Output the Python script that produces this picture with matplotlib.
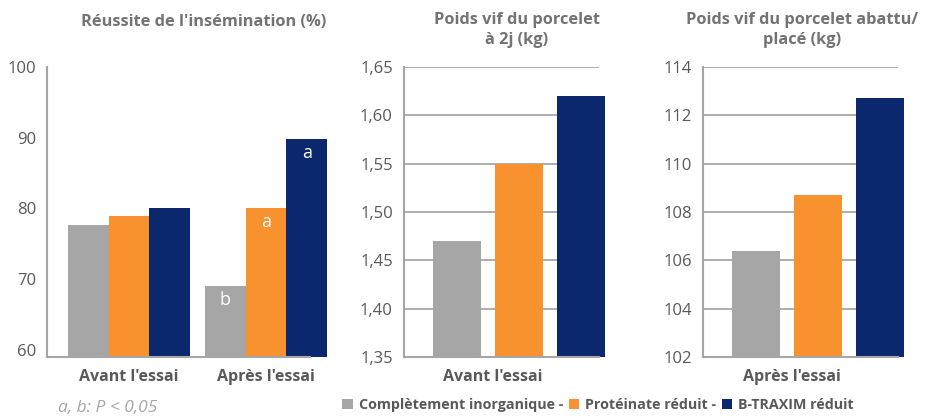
import matplotlib
matplotlib.use("Agg")
import matplotlib.pyplot as plt
import numpy as np

# --- data ---
series = ["Complètement inorganique -", "Protéinate réduit -", "B-TRAXIM réduit"]
colors = ["#a6a6a6", "#f7922f", "#0b276e"]

periods = ["Avant l'essai", "Après l'essai"]
insem_inorg = [77.6, 69.0]
insem_prot = [79.0, 80.0]
insem_btrax = [80.1, 89.8]
insem_letters = [["", "b"], ["", "a"], ["", "a"]]

poids_2j = [1.47, 1.55, 1.62]          # avant l'essai
poids_abattu = [106.4, 108.7, 112.7]   # après l'essai

ticks_insem = [60, 70, 80, 90, 100]
ticks_2j = [1.35, 1.40, 1.45, 1.50, 1.55, 1.60, 1.65]
ticks_abattu = [102, 104, 106, 108, 110, 112, 114]

plt.rcParams["font.family"] = ["Open Sans", "DejaVu Sans"]
TXT = "#595959"
TITLE = "#737373"
AXC = "#a6a6a6"

W, H = 940, 419
fig = plt.figure(figsize=(W / 100, H / 100), dpi=100)


def px_axes(left, top, right, bottom):
    return fig.add_axes([left / W, 1 - bottom / H, (right - left) / W, (bottom - top) / H])


def style(ax, grid):
    for s in ["top", "right"]:
        ax.spines[s].set_visible(False)
    for s in ["left", "bottom"]:
        ax.spines[s].set_color(AXC)
        ax.spines[s].set_linewidth(1.5)
    ax.tick_params(axis="y", length=0, pad=8, labelsize=12, labelcolor=TXT)
    ax.tick_params(axis="x", length=0)
    ax.set_xticks([])
    if grid:
        ax.yaxis.grid(True, color="#a0a0a0", linewidth=1.2)
        ax.set_axisbelow(True)


# --- panel 1: insemination success ---
ax1 = px_axes(47, 67, 310, 357)
style(ax1, grid=False)
x = np.arange(len(periods))
bw = 0.297
for i, vals in enumerate([insem_inorg, insem_prot, insem_btrax]):
    bars = ax1.bar(x + (i - 1) * bw, [v - 59 for v in vals], bw, bottom=59,
                   color=colors[i], clip_on=False, label=series[i])
    for b, lab, v in zip(bars, insem_letters[i], vals):
        if lab:
            ax1.text(b.get_x() + b.get_width() / 2, v - 0.7, lab, ha="center", va="top",
                     color="white", fontsize=13)
ax1.set_xlim(-0.599, 1.321)
ax1.set_ylim(59, 100)
ax1.set_yticks(ticks_insem)
ax1.set_yticklabels([str(t) for t in ticks_insem])
for xi, p in zip(x, periods):
    ax1.text(xi, -0.04, p, transform=ax1.get_xaxis_transform(), ha="center", va="top",
             fontsize=11.5, fontweight="bold", color=TXT)
fig.text(204 / W, 1 - 22 / H, "Réussite de l'insémination (%)", ha="center", va="center",
         fontsize=11.8, fontweight="bold", color=TITLE)

# --- panel 2: weight at 2 days ---
ax2 = px_axes(404, 67, 599, 357)
style(ax2, grid=True)
xb = np.array([-1, 0, 1])
ax2.bar(xb, [v - 1.35 for v in poids_2j], 0.766, bottom=1.35, color=colors, clip_on=False)
ax2.set_xlim(-1.855, 1.29)
ax2.set_ylim(1.35, 1.65)
ax2.set_yticks(ticks_2j)
ax2.set_yticklabels([f"{t:.2f}".replace(".", ",") for t in ticks_2j])
ax2.text((493 - 404) / 195, -0.04, periods[0], transform=ax2.transAxes, ha="center", va="top",
         fontsize=11.5, fontweight="bold", color=TXT)
fig.text(517 / W, 1 - 30 / H, "Poids vif du porcelet\nà 2j (kg)", ha="center", va="center",
         fontsize=11.8, fontweight="bold", color=TITLE, linespacing=1.4)

# --- panel 3: weight slaughtered / placed ---
ax3 = px_axes(703, 67, 898, 357)
style(ax3, grid=True)
ax3.bar(xb, [v - 102 for v in poids_abattu], 0.766, bottom=102, color=colors, clip_on=False)
ax3.set_xlim(-1.855, 1.29)
ax3.set_ylim(102, 114)
ax3.set_yticks(ticks_abattu)
ax3.set_yticklabels([str(t) for t in ticks_abattu])
ax3.text((792 - 703) / 195, -0.04, periods[1], transform=ax3.transAxes, ha="center", va="top",
         fontsize=11.5, fontweight="bold", color=TXT)
fig.text(802 / W, 1 - 30 / H, "Poids vif du porcelet abattu/\nplacé (kg)", ha="center",
         va="center", fontsize=11.8, fontweight="bold", color=TITLE, linespacing=1.4)

# --- legend and footnote ---
handles, labels = ax1.get_legend_handles_labels()
leg = fig.legend(handles, labels, loc="center", bbox_to_anchor=(598 / W, 1 - 405 / H), ncol=3,
                 frameon=False, handlelength=0.75, handleheight=0.75, handletextpad=0.4,
                 columnspacing=0.4, prop={"size": 10.3, "weight": "bold"})
for t in leg.get_texts():
    t.set_color(TXT)
fig.text(58 / W, 1 - 408 / H, "a, b: P < 0,05", ha="left", va="center", fontsize=12.5,
         style="italic", color="#a6a6a6")

fig.savefig("out.png", dpi=100)
